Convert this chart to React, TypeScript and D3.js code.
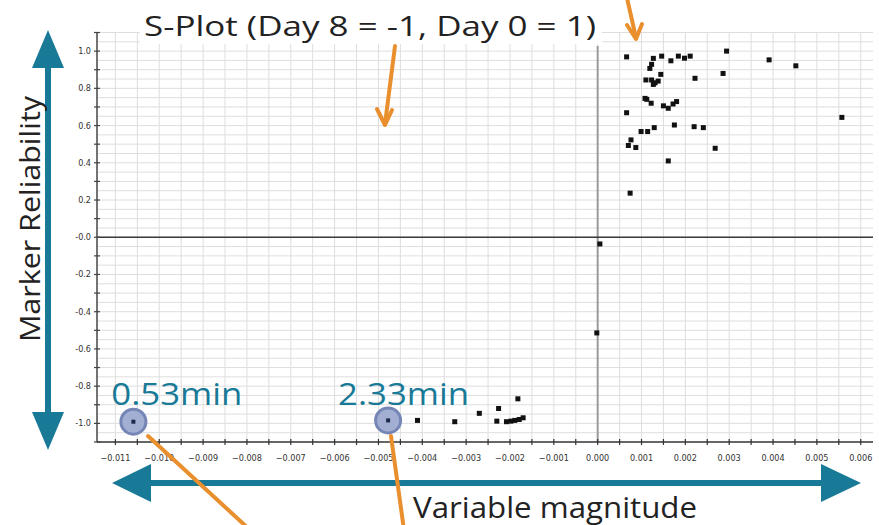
import React from 'react';
import * as d3 from 'd3';

const W = 879;
const H = 525;

// ---- data ----
const upperX = [0.00066, 0.00127, 0.00146, 0.00167, 0.00184, 0.00198, 0.00211, 0.00294, 0.00391, 0.00452,
  0.00123, 0.00119, 0.00144, 0.0011, 0.00123, 0.00131, 0.00138, 0.00127, 0.00222, 0.00286,
  0.00066, 0.00108, 0.00112, 0.00122, 0.0015, 0.00161, 0.00172, 0.0018, 0.00557,
  0.00099, 0.00114, 0.00129, 0.00175, 0.0022, 0.00241,
  0.00076, 0.0007, 0.00087, 0.00268, 0.00161, 0.00074];
const upperY = [0.969, 0.961, 0.973, 0.948, 0.973, 0.962, 0.973, 1.0, 0.953, 0.921,
  0.929, 0.907, 0.875, 0.845, 0.845, 0.83, 0.839, 0.821, 0.854, 0.88,
  0.669, 0.746, 0.741, 0.72, 0.706, 0.693, 0.716, 0.729, 0.644,
  0.568, 0.568, 0.589, 0.603, 0.594, 0.589,
  0.523, 0.493, 0.482, 0.478, 0.41, 0.237];
const centerX = [0.00005, -0.00002];
const centerY = [-0.036, -0.514];
const lowerX = [-0.00411, -0.00326, -0.0027, -0.00226, -0.0023, -0.00208, -0.00198, -0.00189, -0.00179, -0.0017, -0.00182];
const lowerY = [-0.984, -0.991, -0.946, -0.92, -0.988, -0.991, -0.988, -0.984, -0.979, -0.97, -0.868];
const highlightX = [-0.01059, -0.00478];
const highlightY = [-0.991, -0.984];
const highlightLabels = ['0.53min', '2.33min'];

const xTickValues = d3.range(-11, 7).map((i) => i / 1000);
const xMinorValues = d3.range(-22, 13).map((i) => i / 2000);
const yTickValues = [-1.0, -0.8, -0.6, -0.4, -0.2, 0, 0.2, 0.4, 0.6, 0.8, 1.0];
const yTickLabels = ['-1.0', '-0.8', '-0.6', '-0.4', '-0.2', '-0.0', '0.2', '0.4', '0.6', '0.8', '1.0'];
const yMinorValues = d3.range(-11, 12).map((i) => i / 10);
const yGridValues = d3.range(-22, 23).map((i) => i / 20);

const title = 'S-Plot (Day 8 = -1, Day 0 = 1)';
const xTitle = 'Variable magnitude';
const yTitle = 'Marker Reliability';

const TEAL = '#187a97';
const ORANGE = '#e98f2e';

export default function App() {
  const x = d3.scaleLinear().domain([-0.01142, 0.00628]).range([97, 873]);
  const y = d3.scaleLinear().domain([-1.1, 1.1]).range([442, 32.5]);
  const [x0, x1] = x.range();
  const [yb, yt] = y.range();
  const fmtX = d3.format('.3f');

  const points: [number, number][] = [
    ...upperX.map((v, i) => [v, upperY[i]] as [number, number]),
    ...centerX.map((v, i) => [v, centerY[i]] as [number, number]),
    ...lowerX.map((v, i) => [v, lowerY[i]] as [number, number]),
  ];

  const tickFont = "'Liberation Sans Narrow', 'DejaVu Sans Condensed', 'Liberation Sans', sans-serif";
  const bigFont = "'Open Sans', 'Noto Sans', 'Liberation Sans', sans-serif";

  const labelOffsets = [-22, -50];

  return (
    <svg width={W} height={H} style={{ position: 'absolute', left: 0, top: 0, background: '#fff' }}>
      <rect x={0} y={0} width={W} height={H} fill="#fff" />
      {/* grid */}
      <g stroke="#dedede" strokeWidth={1}>
        {xMinorValues.filter((v) => x(v) > x0 + 1 && x(v) < x1).map((v, i) => (
          <line key={'gx' + i} x1={x(v)} x2={x(v)} y1={yt} y2={yb} />
        ))}
        {yGridValues.filter((v) => y(v) < yb - 1).map((v, i) => (
          <line key={'gy' + i} x1={x0} x2={x1} y1={y(v)} y2={y(v)} />
        ))}
      </g>
      {/* title background */}
      <rect x={140} y={0} width={462} height={44} fill="#fff" />
      {/* zero lines */}
      <line x1={x(0)} x2={x(0)} y1={46} y2={yb} stroke="#9a9a9a" strokeWidth={2} />
      <line x1={x0} x2={x1} y1={y(0)} y2={y(0)} stroke="#3a3a3a" strokeWidth={1.5} />
      {/* axes */}
      <line x1={x0} x2={x0} y1={yt} y2={yb} stroke="#444" strokeWidth={1.5} />
      <line x1={x0} x2={x1} y1={yb} y2={yb} stroke="#333" strokeWidth={1.5} />
      {yMinorValues.map((v, i) => (
        <line key={'yt' + i} x1={x0 - 3} x2={x0 + 3} y1={y(v)} y2={y(v)} stroke="#444" strokeWidth={1.2} />
      ))}
      {xMinorValues.filter((v) => x(v) > x0 + 1 && x(v) < x1).map((v, i) => (
        <line key={'xt' + i} x1={x(v)} x2={x(v)} y1={yb - 3} y2={yb + 3} stroke="#333" strokeWidth={1.2} />
      ))}
      {yTickValues.map((v, i) => (
        <text key={'yl' + i} x={x0 - 6} y={y(v) + 3} textAnchor="end" fontSize={9} fill="#333" fontFamily={tickFont}>
          {yTickLabels[i]}
        </text>
      ))}
      {xTickValues.map((v, i) => (
        <text key={'xl' + i} x={x(v)} y={yb + 19} textAnchor="middle" fontSize={9} fill="#333" fontFamily={tickFont}>
          {fmtX(v)}
        </text>
      ))}
      {/* title */}
      <text x={144} y={36} fontSize={27} fill="#222" fontFamily={bigFont} textLength={452} lengthAdjust="spacingAndGlyphs">
        {title}
      </text>
      {/* highlight circles */}
      {highlightX.map((v, i) => (
        <g key={'h' + i}>
          <circle cx={x(v)} cy={y(highlightY[i])} r={12.5} fill="#a3afd2" stroke="#7586b6" strokeWidth={3} />
          <text x={x(v) + labelOffsets[i]} y={405} fontSize={31} fill={TEAL} fontFamily={bigFont} textLength={131} lengthAdjust="spacingAndGlyphs">
            {highlightLabels[i]}
          </text>
        </g>
      ))}
      {/* points */}
      {points.map(([px, py], i) => (
        <rect key={'p' + i} x={x(px) - 2.5} y={y(py) - 2.5} width={5} height={5} fill="#111" />
      ))}
      {highlightX.map((v, i) => (
        <rect key={'hp' + i} x={x(v) - 2} y={y(highlightY[i]) - 2} width={4} height={4} fill="#1a2a4a" />
      ))}
      {/* teal arrows */}
      <g fill={TEAL} stroke="none">
        <rect x={45} y={60} width={6} height={360} />
        <path d="M48,30 L64,68 L32,68 Z" />
        <path d="M48,450 L64,412 L32,412 Z" />
        <rect x={140} y={480} width={690} height={6} />
        <path d="M112,483 L151,464 L151,502 Z" />
        <path d="M861,483 L821,464 L821,502 Z" />
      </g>
      {/* axis titles */}
      <text
        transform="translate(40,219) rotate(-90)"
        textAnchor="middle"
        fontSize={28}
        fill="#222"
        fontFamily={bigFont}
        textLength={246}
        lengthAdjust="spacingAndGlyphs"
      >
        {yTitle}
      </text>
      <text x={413} y={518} fontSize={29} fill="#222" fontFamily={bigFont} textLength={284} lengthAdjust="spacingAndGlyphs">
        {xTitle}
      </text>
      {/* orange arrows */}
      <g stroke={ORANGE} strokeWidth={4} fill="none" strokeLinecap="round" strokeLinejoin="round">
        <line x1={395} y1={46} x2={385} y2={124} />
        <path d="M377,109 L385,125 L392,110" />
        <line x1={627} y1={-2} x2={636} y2={38} />
        <path d="M627,25 L636,39 L642,24" />
        <line x1={148} y1={436} x2={250} y2={530} />
        <line x1={391} y1={436} x2={404} y2={530} />
      </g>
    </svg>
  );
}
